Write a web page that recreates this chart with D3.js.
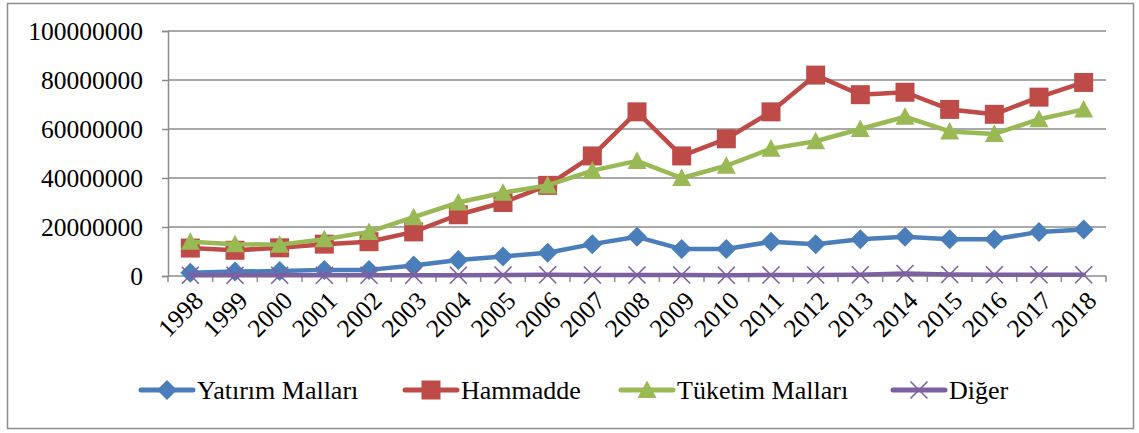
<!DOCTYPE html>
<html>
<head>
<meta charset="UTF-8">
<script src="https://cdnjs.cloudflare.com/ajax/libs/d3/7.8.5/d3.min.js"></script>
</head>
<body style="margin:0">
<div id="chart"></div>
<script>
const years = ["1998","1999","2000","2001","2002","2003","2004","2005","2006","2007","2008","2009","2010","2011","2012","2013","2014","2015","2016","2017","2018"];
const yatirim = [1300000,1800000,2000000,2500000,2500000,4300000,6500000,8000000,9500000,13000000,16000000,11000000,11000000,14000000,13000000,15000000,16000000,15000000,15000000,18000000,19000000];
const hammadde = [11400000,10500000,11500000,13000000,14000000,18000000,25000000,30000000,37000000,49000000,67000000,49000000,56000000,67000000,82000000,74000000,75000000,68000000,66000000,73000000,79000000];
const tuketim = [14000000,13000000,12800000,15000000,18000000,24000000,30000000,34000000,37000000,43000000,47000000,40000000,45000000,52000000,55000000,60000000,65000000,59000000,58000000,64000000,68000000];
const diger = [300000,300000,300000,300000,300000,300000,300000,400000,500000,400000,400000,400000,300000,400000,400000,500000,1000000,600000,500000,500000,500000];
const yTicks = [0,20000000,40000000,60000000,80000000,100000000];

const series = [
    { name: "Yatırım Malları", values: yatirim, color: "#4a7ebb", marker: "diamond" },
    { name: "Hammadde", values: hammadde, color: "#be4b48", marker: "square" },
    { name: "Tüketim Malları", values: tuketim, color: "#98b954", marker: "triangle" },
    { name: "Diğer", values: diger, color: "#7d60a0", marker: "x" }
];

const W = 1139, H = 433;
const plot = { left: 168, right: 1106, top: 31, bottom: 276 };
const FONT = "'Liberation Serif', 'Times New Roman', serif";

const svg = d3.select("#chart").append("svg").attr("width", W).attr("height", H)
    .attr("font-family", "Liberation Serif, Times New Roman, serif");

// outer frame
svg.append("rect").attr("x", 7.5).attr("y", 3.5).attr("width", 1126).attr("height", 425)
    .attr("fill", "#fff").attr("stroke", "#8c8c8c").attr("stroke-width", 1.5);

const x = d3.scaleBand().domain(years).range([plot.left, plot.right]);
const y = d3.scaleLinear().domain([0, 100000000]).range([plot.bottom, plot.top]);

// gridlines
svg.append("g").selectAll("line").data(yTicks.slice(1)).join("line")
    .attr("x1", plot.left).attr("x2", plot.right)
    .attr("y1", d => y(d)).attr("y2", d => y(d))
    .attr("stroke", "#8c8c8c").attr("stroke-width", 1.5);

// y axis
const yAxis = svg.append("g").attr("transform", `translate(${plot.left},0)`)
    .call(d3.axisLeft(y).tickValues(yTicks).tickFormat(d3.format("d")).tickSize(6).tickPadding(19));
yAxis.attr("font-family", null).attr("font-size", null);
yAxis.select(".domain").attr("stroke", "#8c8c8c").attr("stroke-width", 1.5);
yAxis.selectAll(".tick line").attr("stroke", "#8c8c8c").attr("stroke-width", 1.5);
yAxis.selectAll("text").style("font-family", FONT).attr("font-size", 25.5).attr("fill", "#000");

// x axis: ticks at category boundaries
const xg = svg.append("g");
xg.append("line").attr("x1", plot.left).attr("x2", plot.right)
    .attr("y1", plot.bottom).attr("y2", plot.bottom)
    .attr("stroke", "#8c8c8c").attr("stroke-width", 1.5);
xg.selectAll(".bt").data(years.concat(["end"])).join("line")
    .attr("x1", (d, i) => plot.left + i * x.step()).attr("x2", (d, i) => plot.left + i * x.step())
    .attr("y1", plot.bottom).attr("y2", plot.bottom + 6)
    .attr("stroke", "#8c8c8c").attr("stroke-width", 1.5);
xg.selectAll("text").data(years).join("text")
    .attr("transform", d => `translate(${x(d) + x.bandwidth() / 2 + 8},${plot.bottom + 20}) rotate(-45)`)
    .attr("text-anchor", "end").attr("dy", "0.35em")
    .style("font-family", FONT).attr("font-size", 25.5).attr("fill", "#000")
    .text(d => d);

function markerPath(type, size) {
    const s = size / 2;
    if (type === "diamond") return `M0,${-s}L${s},0L0,${s}L${-s},0Z`;
    if (type === "square") return `M${-s},${-s}H${s}V${s}H${-s}Z`;
    if (type === "triangle") return `M0,${-s}L${s},${s * 0.85}L${-s},${s * 0.85}Z`;
    return `M${-s},${-s}L${s},${s}M${s},${-s}L${-s},${s}`;
}

function drawMarker(g, type, color, cx, cy) {
    const size = type === "x" ? 17 : (type === "diamond" ? 20 : 19);
    const p = g.append("path").attr("d", markerPath(type, size))
        .attr("transform", `translate(${cx},${cy})`);
    if (type === "x") p.attr("fill", "none").attr("stroke", color).attr("stroke-width", 1.6);
    else p.attr("fill", color).attr("stroke", "none");
}

const line = d3.line().x((d, i) => x(years[i]) + x.bandwidth() / 2).y(d => y(d));

series.forEach(s => {
    const g = svg.append("g");
    g.append("path").datum(s.values).attr("d", line)
        .attr("fill", "none").attr("stroke", s.color).attr("stroke-width", 4.5)
        .attr("stroke-linejoin", "round").attr("stroke-linecap", "round");
    s.values.forEach((v, i) => drawMarker(g, s.marker, s.color, x(years[i]) + x.bandwidth() / 2, y(v)));
});

// legend
const legendX = [141, 405, 621, 893];
const legY = 390;
series.forEach((s, i) => {
    const g = svg.append("g");
    const x0 = legendX[i];
    g.append("line").attr("x1", x0).attr("x2", x0 + 52).attr("y1", legY).attr("y2", legY)
        .attr("stroke", s.color).attr("stroke-width", 5).attr("stroke-linecap", "round");
    drawMarker(g, s.marker, s.color, x0 + 26, legY);
    g.append("text").attr("x", x0 + 56).attr("y", legY).attr("dy", "0.33em")
        .style("font-family", FONT).attr("font-size", 26).attr("fill", "#000").text(s.name);
});
</script>
</body>
</html>
